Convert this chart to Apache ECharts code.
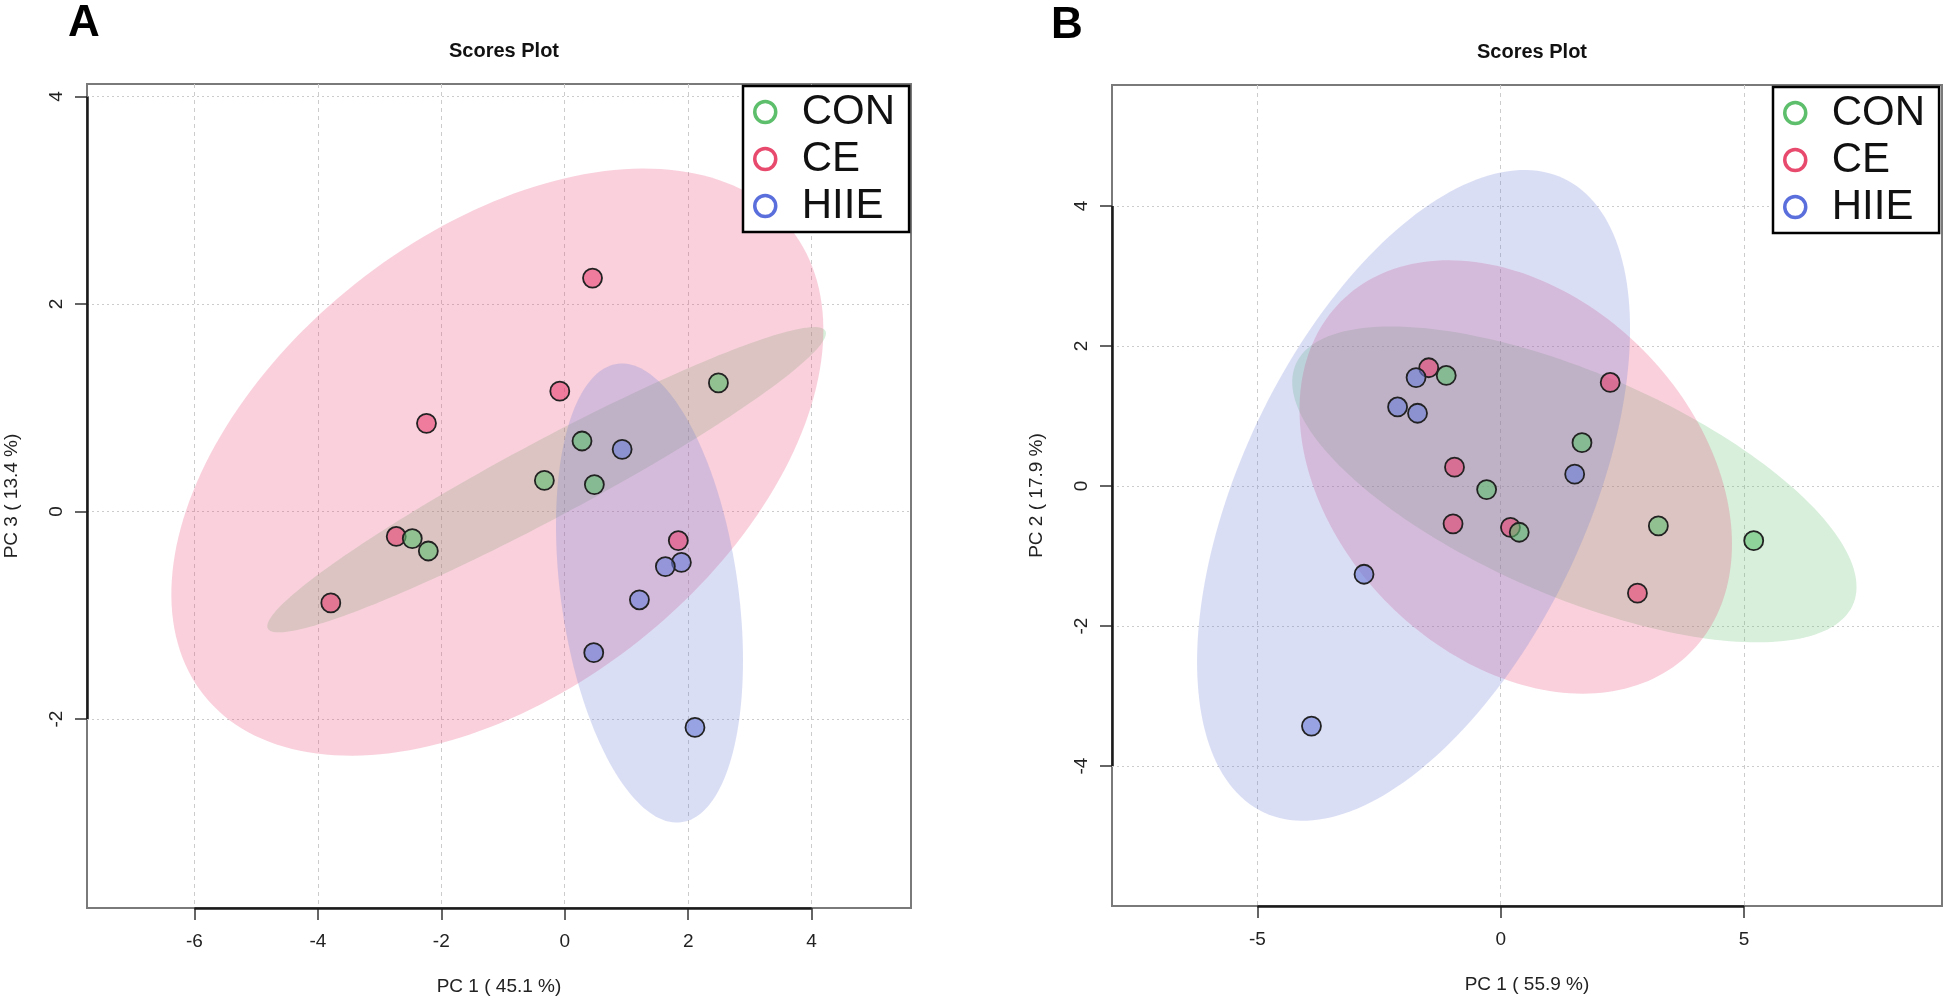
<!DOCTYPE html>
<html>
<head>
<meta charset="utf-8">
<script src="https://cdn.jsdelivr.net/npm/echarts@6/dist/echarts.min.js"></script>
<style>
html,body{margin:0;padding:0;background:#fff;}
#c{width:1946px;height:1002px;}
</style>
</head>
<body>
<div id="c"></div>
<script>
// ---------- DATA ----------
const groups = ['CON', 'CE', 'HIIE'];

// Panel A: PC1 vs PC3
const conA_x = [2.49, 0.28, -0.33, 0.48, -2.47, -2.21];
const conA_y = [1.24, 0.68, 0.30, 0.26, -0.26, -0.38];
const ceA_x = [0.45, -0.08, -2.24, -2.73, -3.79, 1.84];
const ceA_y = [2.25, 1.16, 0.85, -0.24, -0.88, -0.28];
const hiieA_x = [0.93, 1.89, 1.63, 1.21, 0.47, 2.11];
const hiieA_y = [0.60, -0.49, -0.53, -0.85, -1.36, -2.08];

// Panel B: PC1 vs PC2
const conB_x = [-1.12, 1.67, -0.29, 0.38, 3.24, 5.20];
const conB_y = [1.58, 0.62, -0.05, -0.66, -0.57, -0.78];
const ceB_x = [-1.48, 2.25, -0.95, -0.98, 0.20, 2.81];
const ceB_y = [1.69, 1.48, 0.27, -0.54, -0.59, -1.53];
const hiieB_x = [-1.74, -2.12, -1.71, 1.52, -2.81, -3.89];
const hiieB_y = [1.55, 1.13, 1.04, 0.17, -1.26, -3.43];

// Tick labels
const xTicksA = [-6, -4, -2, 0, 2, 4];
const yTicksA = [-2, 0, 2, 4];
const xTicksB = [-5, 0, 5];
const yTicksB = [-4, -2, 0, 2, 4];

// Axis extents
const xRangeA = [-7.74, 5.61], yRangeA = [-3.82, 4.12];
const xRangeB = [-7.99, 9.07], yRangeB = [-6.0, 5.73];

// Texts
const titleText = 'Scores Plot';
const xNameA = 'PC 1 ( 45.1 %)', yNameA = 'PC 3 ( 13.4 %)';
const xNameB = 'PC 1 ( 55.9 %)', yNameB = 'PC 2 ( 17.9 %)';

// ---------- STYLE ----------
const FONT = '"Liberation Sans", Arial, sans-serif';
const base = { CON: [95, 191, 111], CE: [231, 67, 115], HIIE: [107, 123, 215] };
const legendCol = { CON: '#5dbe6b', CE: '#e84a6e', HIIE: '#5b6fdc' };
const rgba = (c, a) => `rgba(${c[0]},${c[1]},${c[2]},${a})`;

// 95% confidence ellipse from covariance of the group's points
function ellipsePts(xs, ys) {
  const n = xs.length;
  const mx = xs.reduce((a, b) => a + b, 0) / n;
  const my = ys.reduce((a, b) => a + b, 0) / n;
  let sxx = 0, syy = 0, sxy = 0;
  for (let i = 0; i < n; i++) {
    sxx += (xs[i] - mx) ** 2; syy += (ys[i] - my) ** 2; sxy += (xs[i] - mx) * (ys[i] - my);
  }
  sxx /= (n - 1); syy /= (n - 1); sxy /= (n - 1);
  const tr = sxx + syy, det = sxx * syy - sxy * sxy;
  const d = Math.sqrt(Math.max(tr * tr / 4 - det, 0));
  const l1 = tr / 2 + d, l2 = Math.max(tr / 2 - d, 0);
  const th = 0.5 * Math.atan2(2 * sxy, sxx - syy);
  const t = Math.sqrt(-2 * Math.log(0.05));
  const pts = [];
  for (let k = 0; k < 200; k++) {
    const a = 2 * Math.PI * k / 200;
    const u = t * Math.sqrt(l1) * Math.cos(a), v = t * Math.sqrt(l2) * Math.sin(a);
    pts.push([mx + u * Math.cos(th) - v * Math.sin(th), my + u * Math.sin(th) + v * Math.cos(th)]);
  }
  return { pts, mx, my };
}

const panels = [
  { data: { CON: [conA_x, conA_y], CE: [ceA_x, ceA_y], HIIE: [hiieA_x, hiieA_y] },
    xr: xRangeA, yr: yRangeA, xt: xTicksA, yt: yTicksA, xn: xNameA, yn: yNameA },
  { data: { CON: [conB_x, conB_y], CE: [ceB_x, ceB_y], HIIE: [hiieB_x, hiieB_y] },
    xr: xRangeB, yr: yRangeB, xt: xTicksB, yt: yTicksB, xn: xNameB, yn: yNameB }
];

const grids = [
  { left: 87, top: 84, width: 824, height: 824 },
  { left: 1112, top: 85, width: 830, height: 821 }
];

const xAxes = [], yAxes = [], series = [];
panels.forEach((p, i) => {
  xAxes.push({
    gridIndex: i, type: 'value', min: p.xr[0], max: p.xr[1], position: 'bottom',
    axisLine: { show: false, onZero: false },
    axisTick: { show: true, customValues: p.xt, length: 12, lineStyle: { color: '#333', width: 1.5 } },
    axisLabel: { customValues: p.xt, fontSize: 19, color: '#222', margin: 24, fontFamily: FONT },
    splitLine: { show: true, lineStyle: { color: '#cccccc', width: 1, type: [4, 4] } },
    name: p.xn, nameLocation: 'middle', nameGap: 69,
    nameTextStyle: { fontSize: 19, color: '#222', fontFamily: FONT }
  });
  yAxes.push({
    gridIndex: i, type: 'value', min: p.yr[0], max: p.yr[1], position: 'left',
    axisLine: { show: false, onZero: false },
    axisTick: { show: true, customValues: p.yt, length: 12, lineStyle: { color: '#333', width: 1.5 } },
    axisLabel: { customValues: p.yt, fontSize: 19, color: '#222', margin: 21, rotate: 90, fontFamily: FONT },
    splitLine: { show: true, lineStyle: { color: '#cccccc', width: 1, type: [2, 3] } },
    name: p.yn, nameLocation: 'middle', nameGap: 66, nameRotate: 90,
    nameTextStyle: { fontSize: 19, color: '#222', fontFamily: FONT }
  });
  // ellipses
  groups.forEach(g => {
    const e = ellipsePts(p.data[g][0], p.data[g][1]);
    series.push({
      type: 'custom', xAxisIndex: i, yAxisIndex: i, silent: true, z: 1,
      data: [[e.mx, e.my]],
      renderItem: (params, api) => ({
        type: 'polygon',
        shape: { points: e.pts.map(q => api.coord(q)) },
        style: { fill: rgba(base[g], 0.25) }
      })
    });
  });
  // points: CE first, then CON, then HIIE
  ['CE', 'CON', 'HIIE'].forEach(g => {
    const xs = p.data[g][0], ys = p.data[g][1];
    const s = {
      type: 'scatter', name: g, xAxisIndex: i, yAxisIndex: i, z: 3,
      symbol: 'circle', symbolSize: 19, clip: false,
      data: xs.map((x, k) => [x, ys[k]]),
      itemStyle: { color: rgba(base[g], 0.6), borderColor: '#222', borderWidth: 1.8, opacity: 1 },
      emphasis: { disabled: true }
    };
    if (g === 'CE') {
      s.markLine = {
        silent: true, symbol: ['none', 'none'], label: { show: false },
        lineStyle: { color: '#1a1a1a', width: 2.5, type: 'solid' },
        emphasis: { disabled: true },
        data: [
          [{ coord: [p.xt[0], p.yr[0]] }, { coord: [p.xt[p.xt.length - 1], p.yr[0]] }],
          [{ coord: [p.xr[0], p.yt[0]] }, { coord: [p.xr[0], p.yt[p.yt.length - 1]] }]
        ]
      };
    }
    series.push(s);
  });
});

const legendData = groups.map(g => ({
  name: g, icon: 'circle',
  itemStyle: { color: 'rgba(0,0,0,0)', borderColor: legendCol[g], borderWidth: 3.5 }
}));
const mkLegend = (left, top) => ({
  left, top, orient: 'vertical', data: legendData, selectedMode: false,
  itemWidth: 21, itemHeight: 21, itemGap: 3,
  padding: [4, 14, 4, 10],
  backgroundColor: '#fff', borderColor: '#000', borderWidth: 2.5,
  textStyle: { fontSize: 42, lineHeight: 44, color: '#111', fontFamily: FONT, padding: [0, 0, 0, 21] }
});

const chart = echarts.init(document.getElementById('c'));
chart.setOption({
  animation: false,
  backgroundColor: '#fff',
  title: [
    { text: 'A', left: 63, top: -3, textStyle: { fontSize: 44, fontWeight: 'bold', color: '#000', fontFamily: FONT } },
    { text: 'B', left: 1046, top: -1, textStyle: { fontSize: 44, fontWeight: 'bold', color: '#000', fontFamily: FONT } },
    { text: titleText, left: 499, top: 36, textAlign: 'center', textStyle: { fontSize: 20, fontWeight: 'bold', color: '#111', fontFamily: FONT } },
    { text: titleText, left: 1527, top: 37, textAlign: 'center', textStyle: { fontSize: 20, fontWeight: 'bold', color: '#111', fontFamily: FONT } }
  ],
  legend: [mkLegend(743, 86), mkLegend(1773, 87)],
  grid: grids.map(g => Object.assign({ show: true, borderColor: '#7a7a7a', borderWidth: 2, backgroundColor: 'transparent', containLabel: false }, g)),
  xAxis: xAxes,
  yAxis: yAxes,
  series
});
</script>
</body>
</html>
